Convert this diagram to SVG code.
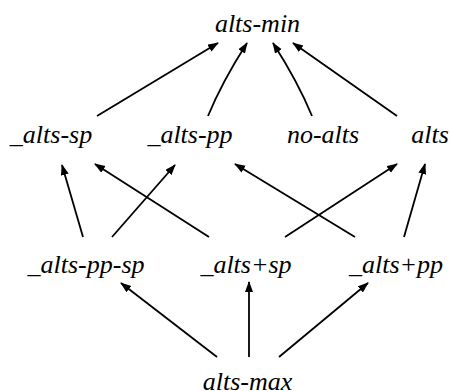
<svg xmlns="http://www.w3.org/2000/svg" width="450" height="391" viewBox="0 0 450 391">
<defs>
<style>
.e{fill:none;stroke:#000;stroke-width:1.8;marker-end:url(#ah)}
</style>
<marker id="ah" markerUnits="userSpaceOnUse" markerWidth="12" markerHeight="10" refX="10" refY="4" orient="auto" viewBox="0 0 12 10">
<path d="M0,0 L11,4 L0,8 z" fill="#000"/>
</marker>
</defs>
<rect width="450" height="391" fill="#fff"/>
<g id="edges">
<path class="e" d="M97,116 L218,43"/>
<path class="e" d="M208,116 Q222,82 247,43"/>
<path class="e" d="M312,116 Q298,82 273,43"/>
<path class="e" d="M397,116 L293,43"/>
<path class="e" d="M83,237 L62,165"/>
<path class="e" d="M112,237 L175,165"/>
<path class="e" d="M209,237 L95,164"/>
<path class="e" d="M285,237 L397,164"/>
<path class="e" d="M355,237 L235,164"/>
<path class="e" d="M404,237 L425,164"/>
<path class="e" d="M217,357 L121,283"/>
<path class="e" d="M249,357 L249,282"/>
<path class="e" d="M279,357 L368,283"/>
</g>
<g id="alts-min"><text x="257.5" y="32" font-family="Liberation Serif" font-style="italic" font-size="26" text-anchor="middle">alts-min</text></g>
<g id="_alts-sp"><text x="51" y="143" font-family="Liberation Serif" font-style="italic" font-size="26" text-anchor="middle">_alts-sp</text></g>
<g id="_alts-pp"><text x="190" y="143" font-family="Liberation Serif" font-style="italic" font-size="26" text-anchor="middle">_alts-pp</text></g>
<g id="no-alts"><text x="323" y="143" font-family="Liberation Serif" font-style="italic" font-size="26" text-anchor="middle">no-alts</text></g>
<g id="alts"><text x="430" y="143" font-family="Liberation Serif" font-style="italic" font-size="26" text-anchor="middle">alts</text></g>
<g id="_alts-pp-sp"><text x="86" y="273" font-family="Liberation Serif" font-style="italic" font-size="26" text-anchor="middle">_alts-pp-sp</text></g>
<g id="_alts+sp"><text x="246" y="273" font-family="Liberation Serif" font-style="italic" font-size="26" text-anchor="middle">_alts+sp</text></g>
<g id="_alts+pp"><text x="396" y="273" font-family="Liberation Serif" font-style="italic" font-size="26" text-anchor="middle">_alts+pp</text></g>
<g id="alts-max"><text x="247.5" y="390" font-family="Liberation Serif" font-style="italic" font-size="26" text-anchor="middle">alts-max</text></g>
</svg>
